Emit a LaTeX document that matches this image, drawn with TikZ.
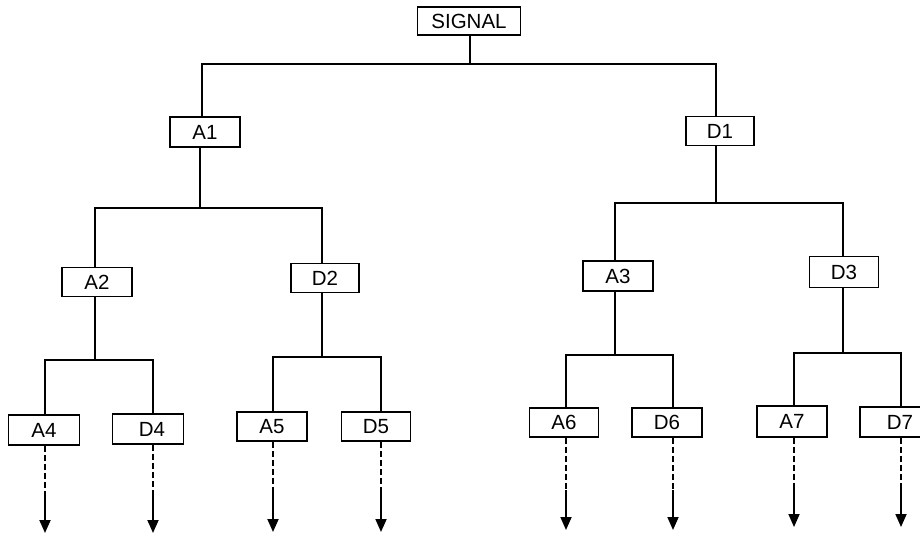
\documentclass[tikz,border=0pt]{standalone}
\usepackage{fontspec}
\setmainfont{Liberation Sans}
\usetikzlibrary{arrows.meta}
\begin{document}
\begin{tikzpicture}[x=1pt,y=-1pt,
  box/.style={draw,line width=1.8pt,rectangle,inner sep=0pt,
    font=\fontsize{20.5}{23}\selectfont},
  wire/.style={line width=1.8pt},
  dashpart/.style={line width=1.8pt,dash pattern=on 6pt off 3pt},
  tippart/.style={line width=1.8pt,-{Triangle[length=13pt,width=11pt]}}]
\useasboundingbox (0,0) rectangle (920,535);

% boxes
\node[box,minimum width=103pt,minimum height=28pt] (sig) at (469,21) {SIGNAL};
\node[box,minimum width=70pt,minimum height=30pt] (a1) at (205,132) {A1};
\node[box,minimum width=68pt,minimum height=29pt] (d1) at (720,131) {D1};
\node[box,minimum width=70pt,minimum height=29pt] (a2) at (97,282) {A2};
\node[box,minimum width=68pt,minimum height=29pt] (d2) at (325,278) {D2};
\node[box,minimum width=70pt,minimum height=30pt] (a3) at (618,276) {A3};
\node[box,minimum width=69pt,minimum height=31pt] (d3) at (844,272) {D3};
\node[box,minimum width=71pt,minimum height=30pt] (a4) at (44,430) {A4};
\node[box,minimum width=71pt,minimum height=30pt] (d4) at (148,429) {\hspace*{8pt}D4};
\node[box,minimum width=70pt,minimum height=29pt] (a5) at (272,426.5) {A5};
\node[box,minimum width=69pt,minimum height=29pt] (d5) at (376,426.5) {D5};
\node[box,minimum width=69pt,minimum height=29pt] (a6) at (564,422.5) {A6};
\node[box,minimum width=70pt,minimum height=29pt] (d6) at (667,422.5) {D6};
\node[box,minimum width=70pt,minimum height=31pt] (a7) at (792,421.5) {A7};
\node[box,minimum width=70pt,minimum height=30pt] (d7) at (895,422) {\hspace*{10pt}D7};

% junction rails
\coordinate (s0) at (470,0);   \coordinate (s1) at (200,0);
\coordinate (l0) at (202,64);  \coordinate (r0) at (716,64);
\coordinate (l1) at (95,208);  \coordinate (r1) at (322,208);
\coordinate (l2) at (615,203); \coordinate (r2) at (843,203);
\coordinate (l3) at (45,360);  \coordinate (r3) at (153,360);
\coordinate (l4) at (273,357); \coordinate (r4) at (381,357);
\coordinate (l5) at (566,355); \coordinate (r5) at (673,355);
\coordinate (l6) at (794,353); \coordinate (r6) at (901,353);

% tree connectors
\draw[wire] (s0 |- sig.south) -- (s0 |- l0);
\draw[wire] (l0 |- a1.north) -- (l0) -- (r0) -- (r0 |- d1.north);
\draw[wire] (s1 |- a1.south) -- (s1 |- l1);
\draw[wire] (l1 |- a2.north) -- (l1) -- (r1) -- (r1 |- d2.north);
\draw[wire] (r0 |- d1.south) -- (r0 |- l2);
\draw[wire] (l2 |- a3.north) -- (l2) -- (r2) -- (r2 |- d3.north);
\draw[wire] (l1 |- a2.south) -- (l1 |- l3);
\draw[wire] (l3 |- a4.north) -- (l3) -- (r3) -- (r3 |- d4.north);
\draw[wire] (r1 |- d2.south) -- (r1 |- l4);
\draw[wire] (l4 |- a5.north) -- (l4) -- (r4) -- (r4 |- d5.north);
\draw[wire] (l2 |- a3.south) -- (l2 |- l5);
\draw[wire] (l5 |- a6.north) -- (l5) -- (r5) -- (r5 |- d6.north);
\draw[wire] (r2 |- d3.south) -- (r2 |- l6);
\draw[wire] (l6 |- a7.north) -- (l6) -- (r6) -- (r6 |- d7.north);

% output arrows: dashed run, then a solid run into the head
\foreach \b/\c/\m/\t in {a4/l3/494/533, d4/r3/494/533, a5/l4/492/532, d5/r4/492/532,
                         a6/l5/490/530, d6/r5/490/530, a7/l6/488/527, d7/r6/488/527}{
  \coordinate (mid) at (0,\m);
  \coordinate (tip) at (0,\t);
  \draw[dashpart] (\c |- \b.south) -- (\c |- mid);
  \draw[tippart] (\c |- mid) -- (\c |- tip);
}
\end{tikzpicture}
\end{document}
